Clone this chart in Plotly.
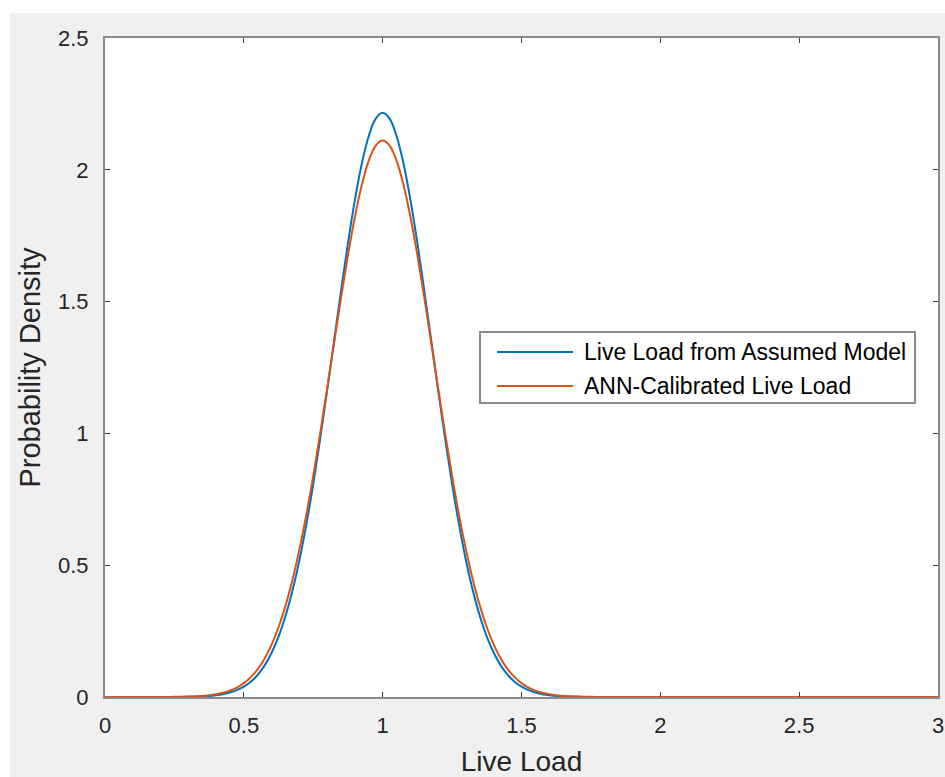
import plotly.graph_objects as go

# Live load values (normalised); denser sampling around the peak
live_load = [
    0, 0.1, 0.2, 0.25, 0.3, 0.35,
    0.4, 0.425, 0.45, 0.475, 0.5, 0.525, 0.55, 0.575, 0.6, 0.625, 0.65, 0.675,
    0.7, 0.725, 0.75, 0.775, 0.8, 0.825, 0.85, 0.875, 0.9, 0.925, 0.95, 0.975,
    1.0,
    1.025, 1.05, 1.075, 1.1, 1.125, 1.15, 1.175, 1.2, 1.225, 1.25, 1.275, 1.3,
    1.325, 1.35, 1.375, 1.4, 1.425, 1.45, 1.475, 1.5, 1.525, 1.55, 1.575, 1.6,
    1.65, 1.7, 1.75, 1.8,
    1.9, 2.0, 2.1, 2.2, 2.3, 2.4, 2.5, 2.6, 2.7, 2.8, 2.9, 3.0,
]

# Probability density of the assumed live-load model
density_assumed = [
    0, 0, 0, 0.0003, 0.0008, 0.0024,
    0.0066, 0.0107, 0.0168, 0.0259, 0.0392, 0.0581, 0.0844, 0.120, 0.168, 0.229,
    0.307, 0.403, 0.518, 0.654, 0.808, 0.979, 1.162, 1.352, 1.541, 1.722, 1.886,
    2.024, 2.128, 2.194,
    2.216,
    2.194, 2.128, 2.024, 1.886, 1.722, 1.541, 1.352, 1.162, 0.979, 0.808, 0.654,
    0.518, 0.403, 0.307, 0.229, 0.168, 0.120, 0.0844, 0.0581, 0.0392, 0.0259,
    0.0168, 0.0107, 0.0066,
    0.0024, 0.0008, 0.0003, 0,
    0, 0, 0, 0, 0, 0, 0, 0, 0, 0, 0, 0,
]

# Probability density of the ANN-calibrated live load
density_ann = [
    0, 0, 0.0002, 0.0005, 0.0015, 0.0041,
    0.0104, 0.0160, 0.0242, 0.0360, 0.0526, 0.0754, 0.106, 0.1465, 0.199, 0.2646,
    0.346, 0.444, 0.559, 0.691, 0.839, 1.000, 1.169, 1.343, 1.514, 1.676, 1.821,
    1.943, 2.035, 2.092,
    2.111,
    2.092, 2.035, 1.943, 1.821, 1.676, 1.514, 1.343, 1.169, 1.000, 0.839, 0.691,
    0.559, 0.444, 0.346, 0.2646, 0.199, 0.1465, 0.106, 0.0754, 0.0526, 0.0360,
    0.0242, 0.0160, 0.0104,
    0.0041, 0.0015, 0.0005, 0.0002,
    0, 0, 0, 0, 0, 0, 0, 0, 0, 0, 0, 0,
]

series_names = ["Live Load from Assumed Model", "ANN-Calibrated Live Load"]
series_colors = ["#0072BD", "#D95319"]

x_ticks = [0, 0.5, 1, 1.5, 2, 2.5, 3]
x_tick_text = ["0", "0.5", "1", "1.5", "2", "2.5", "3"]
y_ticks = [0, 0.5, 1, 1.5, 2, 2.5]
y_tick_text = ["0", "0.5", "1", "1.5", "2", "2.5"]

FONT = "Liberation Sans, Arial, Helvetica, sans-serif"
AXIS_GRAY = "#8a8a8a"
TEXT_DARK = "#262626"

fig = go.Figure()
for ys, name, color in zip([density_assumed, density_ann], series_names, series_colors):
    fig.add_trace(go.Scatter(
        x=live_load, y=ys, mode="lines", name=name,
        line=dict(color=color, width=2, shape="spline", smoothing=1.0),
        showlegend=False,
    ))

axis_common = dict(
    showgrid=False, zeroline=False, automargin=False,
    showline=True, linecolor=AXIS_GRAY, linewidth=2, mirror="allticks",
    ticks="inside", ticklen=5, tickwidth=1, tickcolor="#404040",
    tickfont=dict(family=FONT, size=22, color=TEXT_DARK),
)

fig.update_xaxes(
    range=[0, 3], tickvals=x_ticks, ticktext=x_tick_text,
    ticklabelstandoff=8,
    title=dict(text="Live Load", font=dict(family=FONT, size=28, color=TEXT_DARK), standoff=15),
    **axis_common,
)
fig.update_yaxes(
    range=[0, 2.5], tickvals=y_ticks, ticktext=y_tick_text,
    ticklabelstandoff=10,
    title=dict(text="Probability Density", font=dict(family=FONT, size=29, color=TEXT_DARK), standoff=9),
    **axis_common,
)

# Legend drawn as a framed box with line samples and labels
box_x0, box_x1, box_y0, box_y1 = 0.4502, 0.9724, 0.4461, 0.5539
sample_x0, sample_x1, label_x = 0.4706, 0.5618, 0.5726
row_y = [0.5235, 0.4719]

shapes = [
    # white strips outside the gray figure area
    dict(type="rect", xref="paper", yref="paper", x0=-0.2, x1=1.2, y0=1.038, y1=1.2,
         fillcolor="white", line=dict(width=0), layer="above"),
    dict(type="rect", xref="paper", yref="paper", x0=-0.2, x1=-0.114, y0=-0.2, y1=1.2,
         fillcolor="white", line=dict(width=0), layer="above"),
    dict(type="rect", xref="paper", yref="paper", x0=box_x0, x1=box_x1, y0=box_y0, y1=box_y1,
         fillcolor="white", line=dict(color=AXIS_GRAY, width=2), layer="above"),
]
annotations = []
for yy, name, color in zip(row_y, series_names, series_colors):
    shapes.append(dict(type="line", xref="paper", yref="paper", x0=sample_x0, x1=sample_x1,
                       y0=yy, y1=yy, line=dict(color=color, width=2), layer="above"))
    annotations.append(dict(xref="paper", yref="paper", x=label_x, y=yy, text=name,
                            showarrow=False, xanchor="left", yanchor="middle",
                            font=dict(family=FONT, size=23, color="#000000")))

fig.update_layout(
    width=945, height=777,
    margin=dict(l=105, r=7, t=38, b=80),
    paper_bgcolor="#f0f0f0", plot_bgcolor="white",
    shapes=shapes, annotations=annotations,
)

fig.write_html("out.html")
